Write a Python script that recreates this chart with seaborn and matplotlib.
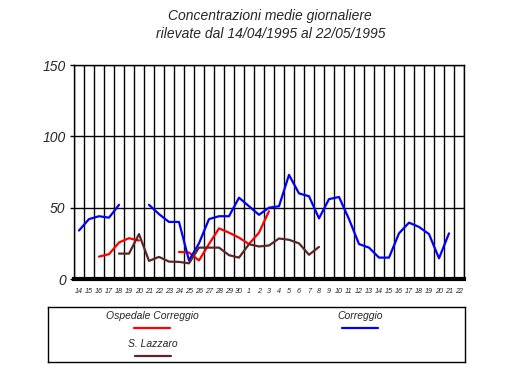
import numpy as np
import pandas as pd
import seaborn as sns
import matplotlib.pyplot as plt

# giorni dal 14/04/1995 al 22/05/1995
days = ['14', '15', '16', '17', '18', '19', '20', '21', '22', '23', '24', '25',
        '26', '27', '28', '29', '30', '1', '2', '3', '4', '5', '6', '7', '8',
        '9', '10', '11', '12', '13', '14', '15', '16', '17', '18', '19', '20',
        '21', '22']

ospedale_correggio = [None, None, 15.7, 17.4, 25.6, 28.6, 27, None, None, None,
                      19, 18.5, 13, 24.5, 35.5, 32.5, 29, 24.5, 32.5, 47.5,
                      None, None, None, None, None, None, None, None, None, None,
                      None, None, None, None, None, None, None, None, None]
correggio = [34, 42, 44, 43, 52, None, None, 52, 45.5, 40, 40, 13, 25, 42, 44,
             44, 57, 51, 45, 50, 51, 73, 60, 58, 42.5, 56, 57.5, 42, 24.5, 22,
             15, 15, 32, 39.5, 36.5, 31.5, 14.5, 32, None]
s_lazzaro = [None, None, None, None, 17.8, 17.8, 31.5, 12.7, 15.5, 12.2, 12, 11,
             22, 22, 22, 16.7, 15, 24.4, 22.8, 23.5, 28.4, 27.5, 25, 17, 22.5,
             None, None, None, None, None, None, None, None, None, None, None,
             None, None, None]

series = [('Ospedale Correggio', ospedale_correggio, '#ff0000'),
          ('Correggio', correggio, '#0000ff'),
          ('S. Lazzaro', s_lazzaro, '#5c2626')]

sns.set_style('white')
plt.rcParams['font.family'] = ['Liberation Sans', 'DejaVu Sans']

fig = plt.figure(figsize=(5.1, 3.65), dpi=100)
ax = fig.add_axes([0.1451, 0.2356, 0.7647, 0.5863])

for name, vals, color in series:
    df = pd.DataFrame({'x': np.arange(len(days)), 'y': np.array(vals, dtype=float)})
    # spezza la linea dove mancano i dati
    df['seg'] = df['y'].isna().cumsum()
    df = df.dropna()
    sns.lineplot(data=df, x='x', y='y', units='seg', estimator=None,
                 color=color, lw=1.6, ax=ax)

ax.set_xlim(-0.5, len(days) - 0.5)
ax.set_ylim(0, 150)
ax.set_xlabel('')
ax.set_ylabel('')

ax.set_xticks(np.arange(len(days)))
ax.set_xticklabels(days, fontsize=5.2, style='italic')
ax.set_xticks(np.arange(-0.5, len(days)), minor=True)
ax.tick_params(axis='x', which='both', length=0, pad=6.5)
ax.grid(which='minor', axis='x', color='black', lw=1)

ax.set_yticks([0, 50, 100, 150])
ax.set_yticklabels(['0', '50', '100', '150'], fontsize=10, style='italic')
ax.tick_params(axis='y', left=True, length=3, width=1, color='black', pad=3)
ax.grid(which='major', axis='y', color='black', lw=1)
ax.set_axisbelow(True)

for s in ax.spines.values():
    s.set_color('black')
    s.set_linewidth(1)
ax.spines['bottom'].set_linewidth(3)

fig.text(0.53, 0.956, 'Concentrazioni medie giornaliere', ha='center', va='center',
         fontsize=10, style='italic')
fig.text(0.53, 0.907, 'rilevate dal 14/04/1995 al 22/05/1995', ha='center',
         va='center', fontsize=10, style='italic')

# legenda disegnata a mano (etichetta sopra, campione di linea sotto)
lax = fig.add_axes([48 / 510, 3 / 365, 417 / 510, 55 / 365])
lax.set_xlim(48, 465)
lax.set_ylim(362, 307)
lax.set_xticks([])
lax.set_yticks([])
for s in lax.spines.values():
    s.set_color('black')
    s.set_linewidth(1)
legend_pos = [(152, 316), (360, 316), (153, 344)]
for (name, vals, color), (lx, ly) in zip(series, legend_pos):
    lax.text(lx, ly, name, ha='center', va='center', fontsize=7.5, style='italic')
    lax.plot([lx - 18, lx + 18], [ly + 12, ly + 12], color=color, lw=1.6)

fig.savefig('out.png', dpi=100)
